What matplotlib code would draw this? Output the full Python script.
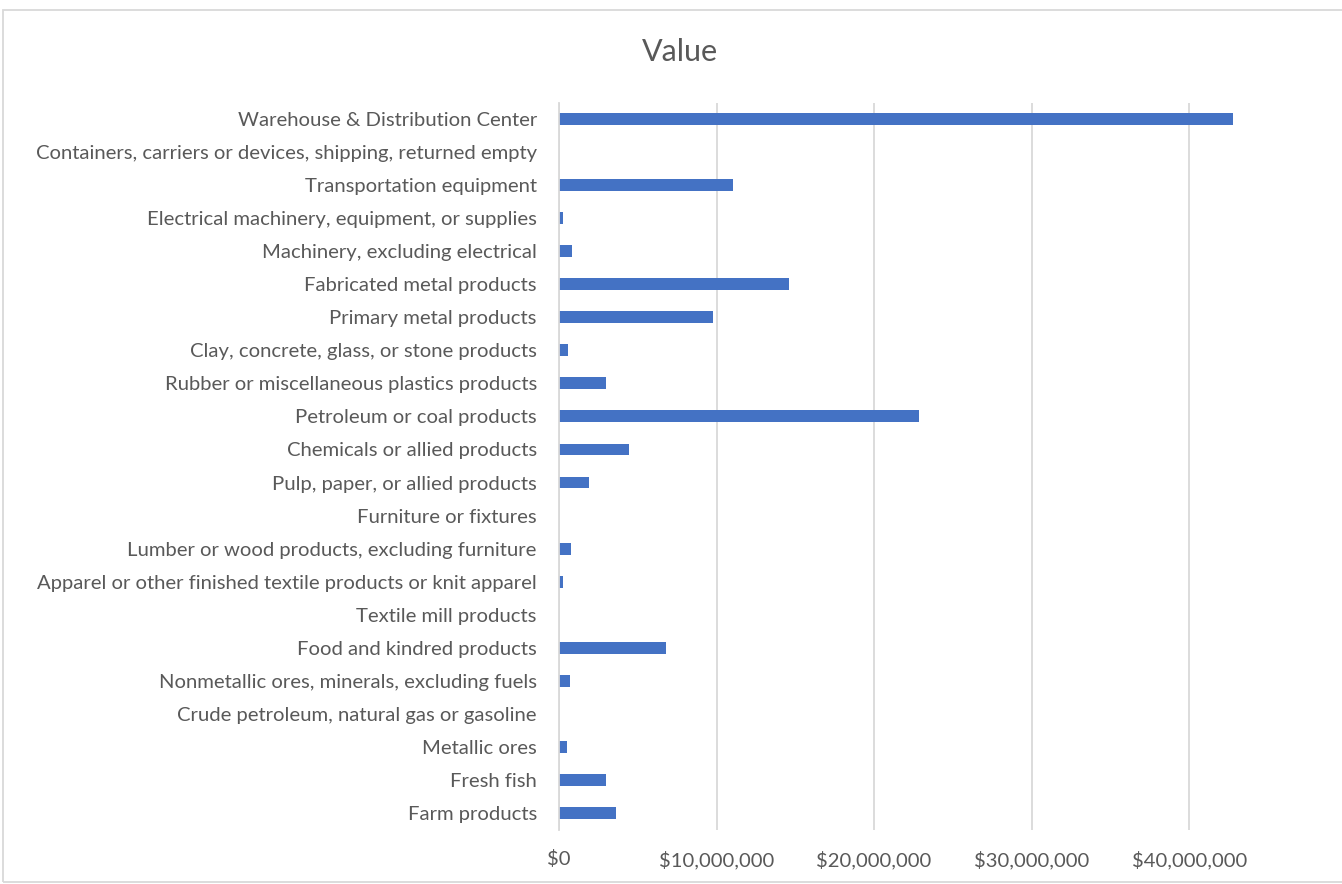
import matplotlib.pyplot as plt
from matplotlib.patches import Rectangle
from matplotlib.ticker import FuncFormatter

# categories listed bottom to top (as drawn)
categories = [
    "Farm products",
    "Fresh fish",
    "Metallic ores",
    "Crude petroleum, natural gas or gasoline",
    "Nonmetallic ores, minerals, excluding fuels",
    "Food and kindred products",
    "Textile mill products",
    "Apparel or other finished textile products or knit apparel",
    "Lumber or wood products, excluding furniture",
    "Furniture or fixtures",
    "Pulp, paper, or allied products",
    "Chemicals or allied products",
    "Petroleum or coal products",
    "Rubber or miscellaneous plastics products",
    "Clay, concrete, glass, or stone products",
    "Primary metal products",
    "Fabricated metal products",
    "Machinery, excluding electrical",
    "Electrical machinery, equipment, or supplies",
    "Transportation equipment",
    "Containers, carriers or devices, shipping, returned empty",
    "Warehouse & Distribution Center",
]
values = [
    3600000, 3000000, 500000, 0, 700000, 6800000, 0, 250000, 750000, 0,
    1900000, 4450000, 22850000, 3000000, 600000, 9750000, 14600000,
    800000, 250000, 11050000, 0, 42800000,
]
xticks = [0, 10000000, 20000000, 30000000, 40000000]

plt.rcParams['font.family'] = ['Lato', 'DejaVu Sans']

fig = plt.figure(figsize=(13.42, 8.84), dpi=100)
ax = fig.add_axes([559/1342, 1 - 829.5/884, 1 - 559/1342, (829.5 - 102.5)/884])

ax.barh(range(len(categories)), values, height=0.36, color='#4472C4')
ax.set_yticks(range(len(categories)))
ax.set_yticklabels(categories)
ax.set_ylim(-0.5, len(categories) - 0.5)
ax.set_xlim(0, 49700000)
ax.set_xticks(xticks)
ax.xaxis.set_major_formatter(FuncFormatter(lambda v, p: '${:,.0f}'.format(v)))
ax.grid(axis='x', color='#d9d9d9', linewidth=1.3)
ax.set_axisbelow(True)
for s in ['top', 'right', 'bottom']:
    ax.spines[s].set_visible(False)
ax.spines['left'].set_color('#d9d9d9')
ax.spines['left'].set_linewidth(1.3)
ax.tick_params(axis='y', length=0, pad=16, labelsize=14.6, labelcolor='#595959')
ax.tick_params(axis='x', length=0, pad=15, labelsize=14.6, labelcolor='#595959')

fig.text(680/1342, 1 - 52/884, 'Value', ha='center', va='center', fontsize=22, color='#595959')
fig.patches.append(Rectangle((3/1342, 2/884), 1.0, 1 - 12/884, transform=fig.transFigure,
                             fill=False, edgecolor='#d9d9d9', linewidth=1.3))

plt.savefig('out.png', dpi=100)
